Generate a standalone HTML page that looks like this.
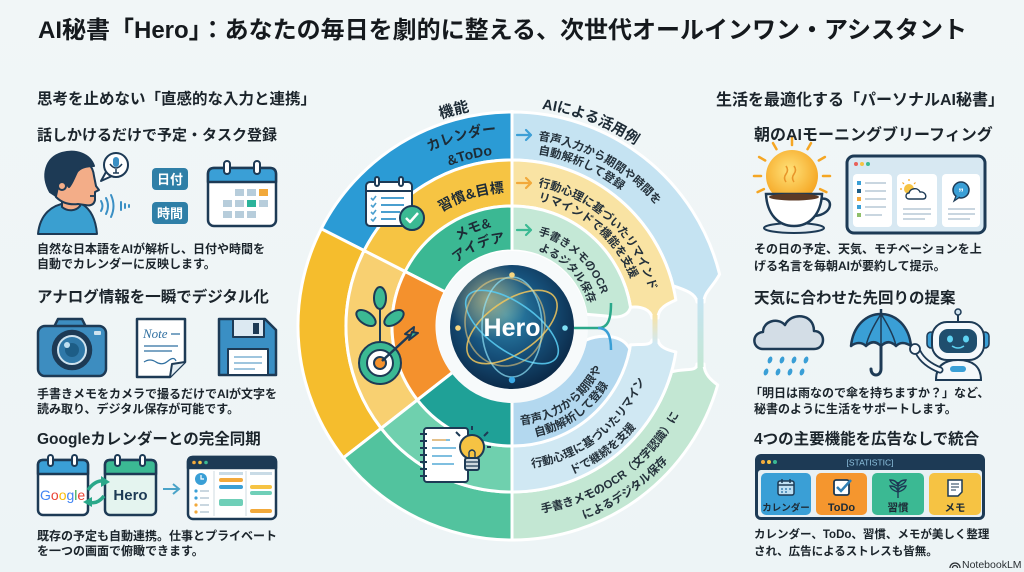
<!DOCTYPE html>
<html><head><meta charset="utf-8">
<style>
html,body{margin:0;padding:0;}
body{width:1024px;height:572px;overflow:hidden;position:relative;background:linear-gradient(180deg,#f1f6f7 0%,#edf4f6 100%);font-family:"Liberation Sans","Noto Sans CJK JP",sans-serif;}
svg{position:absolute;left:0;top:0;}
.t{position:absolute;white-space:nowrap;font-weight:bold;color:#1b242b;line-height:1;}
.h{font-size:15.5px;}
.b{font-size:12px;}
</style></head><body>
<svg width="1024" height="572" viewBox="0 0 1024 572" font-family="'Liberation Sans','Noto Sans CJK JP',sans-serif">
<defs>
<radialGradient id="heroG" cx="45%" cy="40%" r="62%">
<stop offset="0" stop-color="#2f8ab0"/><stop offset="0.55" stop-color="#16507a"/><stop offset="1" stop-color="#0b2846"/>
</radialGradient>
<radialGradient id="glowY" cx="50%" cy="50%" r="50%">
<stop offset="0" stop-color="#f7d57a" stop-opacity="0.55"/><stop offset="1" stop-color="#f7d57a" stop-opacity="0"/>
</radialGradient>
<radialGradient id="sunG" cx="45%" cy="40%" r="60%">
<stop offset="0" stop-color="#ffe27a"/><stop offset="1" stop-color="#f5a623"/>
</radialGradient>
<linearGradient id="stemA" x1="0" y1="0" x2="0" y2="1"><stop offset="0" stop-color="#c5e3f2"/><stop offset="1" stop-color="#c3e7d3"/></linearGradient>
<linearGradient id="stemB" x1="0" y1="0" x2="0" y2="1"><stop offset="0" stop-color="#f9e3a3"/><stop offset="1" stop-color="#d0e8f3"/></linearGradient>
<clipPath id="hc"><circle cx="512" cy="327" r="62"/></clipPath>
<path id="tA" d="M402.5,136.3 A219,219 0 0 1 666.9,171.1"/>
<path id="l1" d="M375.5,189.5 A193,193 0 0 1 562,139.6"/>
<path id="l2" d="M392.5,202.3 A172,172 0 0 1 559.4,160.7"/>
<path id="l3" d="M413.2,235.5 A134,134 0 0 1 541,195.2"/>
<path id="l4" d="M432.4,263.8 A101,101 0 0 1 526.1,226"/>
<path id="l5" d="M444.9,275.4 A84,84 0 0 1 522.2,242.6"/>
<path id="p1" d="M538,139.8 A188,188 0 0 1 699.3,342.4"/>
<path id="p2" d="M538,154 A174,174 0 0 1 685.3,341.2"/>
<path id="p3" d="M538,186.4 A142,142 0 0 1 653.5,338.4"/>
<path id="p4" d="M538,200.7 A128,128 0 0 1 639.5,337.2"/>
<path id="p5" d="M538,234.6 A95,95 0 0 1 606.6,334.3"/>
<path id="p6" d="M538,250.3 A80,80 0 0 1 591.7,333"/>
<path id="q1" d="M520.6,424.6 A99,99 0 0 0 609.5,343.2"/>
<path id="q2" d="M535.5,436.5 A113,113 0 0 0 623.3,345.6"/>
<path id="q3" d="M531.9,467.6 A143,143 0 0 0 652.8,350.8"/>
<path id="q4" d="M571.9,474.4 A160,160 0 0 0 669.6,353.8"/>
<path id="q5" d="M541.6,512.7 A189,189 0 0 0 698.1,358.8"/>
<path id="q6" d="M584.1,519 A206,206 0 0 0 714.9,361.8"/>
</defs>

<!-- LEFT HALF BANDS -->
<g stroke="#fff" stroke-width="3" stroke-linejoin="round">
<path d="M512,112 A214,214 0 0 0 321.3,228.8 L364.1,250.6 A166,166 0 0 1 512,160 Z" fill="#2b9bd5"/>
<path d="M512,160 A166,166 0 0 0 364.1,250.6 L405.1,271.5 A120,120 0 0 1 512,206 Z" fill="#f6c443"/>
<path d="M512,206 A120,120 0 0 0 405.1,271.5 L445.2,291.9 A75,75 0 0 1 512,251 Z" fill="#3bb893"/>
<path d="M321.3,228.8 A214,214 0 0 0 343.4,457.8 L381.2,428.3 A166,166 0 0 1 364.1,250.6 Z" fill="#f5bd2d"/>
<path d="M364.1,250.6 A166,166 0 0 0 381.2,428.3 L417.4,399.9 A120,120 0 0 1 405.1,271.5 Z" fill="#f8d071"/>
<path d="M405.1,271.5 A120,120 0 0 0 417.4,399.9 L452.9,372.2 A75,75 0 0 1 445.2,291.9 Z" fill="#f4912d"/>
<path d="M343.4,457.8 A214,214 0 0 0 512,540 L512,492 A166,166 0 0 1 381.2,428.3 Z" fill="#52c39e"/>
<path d="M381.2,428.3 A166,166 0 0 0 512,492 L512,446 A120,120 0 0 1 417.4,399.9 Z" fill="#6fd0ae"/>
<path d="M417.4,399.9 A120,120 0 0 0 512,446 L512,401 A75,75 0 0 1 452.9,372.2 Z" fill="#1fa197"/>
</g>

<!-- RIGHT HALF BANDS -->
<g stroke="#fff" stroke-width="3" stroke-linejoin="round">
<path d="M512,112 A214,214 0 0 1 719.6,274.2 C713,287 704,292 704,302 L697,302 C696,294 686,290 673.1,285.8 A166,166 0 0 0 512,160 Z" fill="#c5e3f2"/>
<path d="M697,364 L704,364 C704,374 711,380 717.7,385 A214,214 0 0 1 512,540 L512,492 A166,166 0 0 0 671.6,371.8 C686,368 697,372 697,364 Z" fill="#c3e7d3"/>
<path d="M512,160 A166,166 0 0 1 675.9,300 C667,304 658,308 658,318 L652,318 C651,310 642,306 630.5,307.2 A120,120 0 0 0 512,206 Z" fill="#f9e3a3"/>
<path d="M652,340 L658,340 C659,347 667,350 675.9,352 A166,166 0 0 1 512,492 L512,446 A120,120 0 0 0 630.5,344.8 C641,344 651,346 652,340 Z" fill="#d0e8f3"/>
<path d="M512,206 A120,120 0 0 1 630.5,307.2 C628,318 614,318 606,316 L586.1,314.3 A75,75 0 0 0 512,251 Z" fill="#c4e8d6"/>
<path d="M585.6,340.3 C600,334 622,334 629.8,348.9 A120,120 0 0 1 512,446 L512,401 A75,75 0 0 0 585.6,340.3 Z" fill="#b3d8ef"/>
</g>
<rect x="697.5" y="299" width="6" height="68" fill="url(#stemA)"/>
<rect x="652.5" y="315" width="5" height="28" fill="url(#stemB)"/>
<line x1="512" y1="110" x2="512" y2="541" stroke="#fff" stroke-width="3"/>

<!-- arrows on top bands -->
<g fill="none" stroke-width="2.2" stroke-linecap="round" stroke-linejoin="round">
<path d="M517,135 H531 M526,130 L531,135 L526,140" stroke="#3d9fd6"/>
<path d="M517,183 H531 M526,178 L531,183 L526,188" stroke="#f2a93b"/>
<path d="M517,230 H531 M526,225 L531,230 L526,235" stroke="#3bb993"/>
</g>

<!-- HERO -->
<circle cx="512" cy="327" r="76" fill="#f7fafb"/>
<circle cx="512" cy="327" r="62" fill="url(#heroG)"/>
<g clip-path="url(#hc)">
<circle cx="488" cy="300" r="40" fill="url(#glowY)"/>
<g fill="none" stroke-width="1.6">
<ellipse cx="512" cy="327" rx="52" ry="26" transform="rotate(-35 512 327)" stroke="#f2c75c" opacity=".85"/>
<ellipse cx="512" cy="327" rx="54" ry="24" transform="rotate(35 512 327)" stroke="#58c9ee" opacity=".9"/>
<ellipse cx="512" cy="327" rx="50" ry="30" transform="rotate(90 512 327)" stroke="#8fe1f7" opacity=".7"/>
<ellipse cx="505" cy="322" rx="40" ry="44" stroke="#f7d27a" opacity=".55"/>
</g>
</g>
<circle cx="512" cy="275" r="2.8" fill="#f6d680"/>
<circle cx="458" cy="328" r="2.8" fill="#f6d680"/>
<circle cx="565" cy="328" r="2.8" fill="#7fe0f5"/>
<circle cx="512" cy="380" r="3.2" fill="#3aa9e6"/>
<text x="512" y="336" text-anchor="middle" font-size="25" font-weight="bold" fill="#fff">Hero</text>
<path d="M574,328 H598 C608,328 611,320 611,303" fill="none" stroke="#2aa88a" stroke-width="2.5"/>
<path d="M598,328 C608,328 611,336 611,350" fill="none" stroke="#3a9fd6" stroke-width="2.5"/>

<!-- arc labels -->
<g font-weight="bold" fill="#1d2b36">
<text font-size="15"><textPath href="#tA" startOffset="57" text-anchor="middle">機能</textPath></text>
<text font-size="14.5"><textPath href="#tA" startOffset="195" text-anchor="middle">AIによる活用例</textPath></text>
<text font-size="14"><textPath href="#l1" startOffset="50%" text-anchor="middle">カレンダー</textPath></text>
<text font-size="14"><textPath href="#l2" startOffset="50%" text-anchor="middle">&amp;ToDo</textPath></text>
<text font-size="14"><textPath href="#l3" startOffset="50%" text-anchor="middle">習慣&amp;目標</textPath></text>
<text font-size="13.5"><textPath href="#l4" startOffset="50%" text-anchor="middle">メモ&amp;</textPath></text>
<text font-size="13.5"><textPath href="#l5" startOffset="50%" text-anchor="middle">アイデア</textPath></text>
</g>
<g font-weight="bold" fill="#24313b" font-size="11.5">
<text><textPath href="#p1">音声入力から期間や時間を</textPath></text>
<text><textPath href="#p2">自動解析して登録</textPath></text>
<text><textPath href="#p3">行動心理に基づいたリマインド</textPath></text>
<text><textPath href="#p4">リマインドで機能を支援</textPath></text>
<text font-size="11"><textPath href="#p5">手書きメモのOCR</textPath></text>
<text font-size="11"><textPath href="#p6">よるジタル保存</textPath></text>
<text><textPath href="#q1">音声入力から期限や</textPath></text>
<text><textPath href="#q2">自動解析して登録</textPath></text>
<text><textPath href="#q3">行動心理に基づいたリマイン</textPath></text>
<text><textPath href="#q4">ドで継続を支援</textPath></text>
<text><textPath href="#q5">手書きメモのOCR（文字認識）に</textPath></text>
<text><textPath href="#q6">によるデジタル保存</textPath></text>
</g>

<!-- diagram icons -->
<g stroke="#1d3a55" stroke-width="2" stroke-linejoin="round">
<rect x="366" y="182" width="46" height="44" rx="4" fill="#fff"/>
<line x1="366" y1="191" x2="412" y2="191"/>
<rect x="375" y="177" width="4" height="9" rx="2" fill="#fff"/>
<rect x="399" y="177" width="4" height="9" rx="2" fill="#fff"/>
<g stroke="#4a9fcf" stroke-width="2" fill="none"><path d="M381,198 H404 M381,205 H404 M381,212 H400 M381,219 H396"/></g>
<g stroke="#4a9fcf" stroke-width="1.6" fill="none"><path d="M371,198 l2,2 l3,-4 M371,205 l2,2 l3,-4 M371,212 l2,2 l3,-4 M371,219 l2,2 l3,-4"/></g>
<circle cx="412" cy="218" r="12" fill="#3bb993"/>
<path d="M406,218 L410,222 L418,213" fill="none" stroke="#fff" stroke-width="2.5"/>
</g>
<g stroke="#1d3a55" stroke-width="2" stroke-linejoin="round">
<line x1="380" y1="343" x2="380" y2="302"/>
<ellipse cx="380" cy="298" rx="6" ry="11" fill="#3bb993"/>
<ellipse cx="366" cy="318" rx="6" ry="11" transform="rotate(-55 366 318)" fill="#3bb993"/>
<ellipse cx="394" cy="318" rx="6" ry="11" transform="rotate(55 394 318)" fill="#3bb993"/>
<circle cx="380" cy="363" r="21" fill="#3bb993"/>
<circle cx="380" cy="363" r="13" fill="#fff"/>
<circle cx="380" cy="363" r="6" fill="#f4912d"/>
<line x1="382" y1="361" x2="409" y2="336" stroke-width="2.5"/>
<path d="M405,334 L414,327 L413,336 Z" fill="#f4912d"/>
<path d="M409,340 L418,333 L412,332 Z" fill="#3bb993"/>
</g>
<g stroke="#1d3a55" stroke-width="2" stroke-linejoin="round">
<rect x="424" y="428" width="44" height="54" rx="3" fill="#fff"/>
<path d="M420,434 h7 M420,441 h7 M420,448 h7 M420,455 h7 M420,462 h7 M420,469 h7 M420,476 h7" stroke-width="2"/>
<path d="M432,440 H450 M432,448 H456 M432,456 H452 M432,464 H454" stroke="#7fbfe0" stroke-width="2"/>
<path d="M432,440 H446" stroke="#e3c08a" stroke-width="2"/>
<circle cx="472" cy="447" r="12" fill="#f6c343"/>
<rect x="465" y="458" width="14" height="12" rx="2" fill="#cfd8df"/>
<path d="M466,462 H478 M466,466 H478" stroke-width="1.2"/>
<path d="M469,452 V458 M475,452 V458 M469,452 q3,-4 6,0" fill="none" stroke-width="1.4"/>
<path d="M472,430 V426 M484,436 L488,432 M460,436 L456,432 M487,447 H491" fill="none"/>
</g>

<!-- LEFT COLUMN ICONS -->
<g stroke="#1d3a55" stroke-width="2" stroke-linejoin="round">
<path d="M38,234 C40,214 52,205 66,203 L82,204 C92,210 96,222 97,234 Z" fill="#3a9fd0"/>
<path d="M62,194 L62,207 C68,212 76,211 80,206 L80,196 Z" fill="#f3ad88"/>
<path d="M52,186 C50,168 60,158 74,158 C86,158 93,166 94,176 L96,186 L99,190 L95,192 L95,200 C94,205 90,206 85,205 L78,204 C70,205 62,203 56,197 Z" fill="#f3ad88"/>
<path d="M50,192 C41,176 45,158 62,153 C76,149 90,154 94,166 C86,166 80,168 77,172 C74,178 72,184 69,187 C65,182 60,182 58,187 L56,196 Z" fill="#1d3a55"/>
<circle cx="62" cy="186" r="4" fill="#f3ad88"/>
<path d="M90,196 L96,196" stroke-width="1.8"/>
</g>
<g fill="none" stroke="#3a8fc4" stroke-width="2" stroke-linecap="round">
<path d="M101,201 Q104,206 101,211"/><path d="M106,198 Q110,206 106,214"/><path d="M111,195 Q116,206 111,217"/>
<line x1="121" y1="202" x2="121" y2="210"/><line x1="125" y1="204" x2="125" y2="208"/><line x1="129" y1="205" x2="129" y2="207"/>
</g>
<path d="M106,172 L101,181 L112,176" fill="#fff" stroke="#1d3a55" stroke-width="2" stroke-linejoin="round"/>
<circle cx="116" cy="165" r="12" fill="#fff" stroke="#1d3a55" stroke-width="2"/>
<rect x="113" y="157" width="6" height="10" rx="3" fill="#3a8fc4"/>
<path d="M110,164 Q116,172 122,164 M116,169 V173 M113,173 H119" stroke="#1d3a55" fill="none" stroke-width="1.5"/>
<rect x="152" y="168" width="36" height="22" rx="4" fill="#2f7fa7"/>
<rect x="152" y="202" width="36" height="22" rx="4" fill="#2f7fa7"/>
<g fill="#fff" font-size="13" font-weight="bold" text-anchor="middle"><text x="170" y="184">日付</text><text x="170" y="218">時間</text></g>
<g stroke="#1d3a55" stroke-width="2.5" stroke-linejoin="round">
<rect x="208" y="168" width="68" height="58" rx="6" fill="#fff"/>
<path d="M208,182 V174 Q208,168 214,168 H270 Q276,168 276,174 V182 Z" fill="#3a9fd6"/>
<rect x="224" y="161" width="6" height="13" rx="3" fill="#fff" stroke-width="2"/>
<rect x="254" y="161" width="6" height="13" rx="3" fill="#fff" stroke-width="2"/>
</g>
<g fill="#b7cddb">
<rect x="235" y="189" width="9" height="7"/><rect x="247" y="189" width="9" height="7"/><rect x="259" y="189" width="9" height="7" fill="#f2a93b"/>
<rect x="223" y="200" width="9" height="7"/><rect x="235" y="200" width="9" height="7"/><rect x="247" y="200" width="9" height="7" fill="#2bb39a"/><rect x="259" y="200" width="9" height="7"/>
<rect x="223" y="211" width="9" height="7"/><rect x="235" y="211" width="9" height="7"/><rect x="247" y="211" width="9" height="7"/>
</g>

<g stroke="#1d3a55" stroke-width="2.5" stroke-linejoin="round">
<path d="M54,327 L58,319 H82 L86,327 Z" fill="#3d8dc0"/>
<rect x="38" y="326" width="68" height="50" rx="7" fill="#3d8dc0"/>
<circle cx="72" cy="350" r="19" fill="#1d3a55"/>
<circle cx="72" cy="350" r="14" fill="#2f78a8" stroke="#cfe3ef" stroke-width="2"/>
<circle cx="72" cy="350" r="7" fill="#1d5d86" stroke="none"/>
<circle cx="67" cy="345" r="3" fill="#bfe0f2" stroke="none"/>
<rect x="94" y="331" width="7" height="4" rx="1" fill="#cfe3ef" stroke="none"/>
<path d="M137,319 H185 V362 L170,377 H137 Z" fill="#fff"/>
<path d="M185,362 L172,364 L170,377" fill="#e3edf3" stroke-width="2"/>
<path d="M219,319 H265 L276,330 V375 H219 Z" fill="#3a8fc4"/>
<rect x="233" y="319" width="31" height="18" fill="#dce9f2" stroke-width="2"/>
<rect x="253" y="323" width="6" height="11" fill="#1d3a55" stroke="none"/>
<rect x="228" y="349" width="40" height="26" fill="#fff" stroke-width="2"/>
</g>
<text x="143" y="338" font-family="'Liberation Serif',serif" font-style="italic" font-size="13" fill="#2f6fa0">Note</text>
<path d="M171,334 H180 M144,346 H178 M144,351 H172 M144,362 Q150,358 156,362 T168,361 T176,361" stroke="#2f6fa0" stroke-width="1.2" fill="none"/>
<path d="M234,357 H262 M234,363 H262 M234,369 H255" stroke="#7fb2d3" stroke-width="1.5"/>

<g stroke="#1d3a55" stroke-width="2.5" stroke-linejoin="round">
<rect x="38" y="460" width="50" height="55" rx="5" fill="#fff"/>
<path d="M38,474 V465 Q38,460 43,460 H83 Q88,460 88,465 V474 Z" fill="#3a9fd6"/>
<rect x="48" y="455" width="5" height="11" rx="2.5" fill="#fff" stroke-width="2"/>
<rect x="72" y="455" width="5" height="11" rx="2.5" fill="#fff" stroke-width="2"/>
<rect x="105" y="460" width="51" height="55" rx="5" fill="#e4f4ef"/>
<path d="M105,474 V465 Q105,460 110,460 H151 Q156,460 156,465 V474 Z" fill="#3bb993"/>
<rect x="115" y="455" width="5" height="11" rx="2.5" fill="#fff" stroke-width="2"/>
<rect x="140" y="455" width="5" height="11" rx="2.5" fill="#fff" stroke-width="2"/>
<rect x="188" y="457" width="88" height="62" rx="5" fill="#fff"/>
<path d="M188,468 V462 Q188,457 193,457 H271 Q276,457 276,462 V468 Z" fill="#1d3a55"/>
</g>
<text x="40" y="500" font-size="14"><tspan fill="#4285f4">G</tspan><tspan fill="#ea4335">o</tspan><tspan fill="#fbbc05">o</tspan><tspan fill="#4285f4">g</tspan><tspan fill="#34a853">l</tspan><tspan fill="#ea4335">e</tspan></text>
<text x="130.5" y="500" text-anchor="middle" font-size="15" font-weight="bold" fill="#1d3a55">Hero</text>
<g fill="none" stroke="#2aa88a" stroke-width="3.5">
<path d="M88,490 Q95,480 104,481"/><path d="M104,496 Q97,505 89,502"/>
</g>
<path d="M101,476 L110,482 L101,487 Z" fill="#2aa88a"/>
<path d="M92,497 L83,502 L92,507 Z" fill="#2aa88a"/>
<path d="M163,489 H178 M173,484 L179,489 L173,494" stroke="#4aa3c8" stroke-width="2" fill="none"/>
<circle cx="194" cy="462.5" r="1.8" fill="#f2a93b"/><circle cx="200" cy="462.5" r="1.8" fill="#f6c343"/><circle cx="206" cy="462.5" r="1.8" fill="#3bb993"/>
<path d="M214,471 V516 M246,471 V516" stroke="#dfe7ec" stroke-width="1.5"/>
<circle cx="201" cy="479" r="6" fill="#3a9fd6"/>
<path d="M201,475 V479 H204" stroke="#fff" stroke-width="1.2" fill="none"/>
<g fill="#3a9fd6"><circle cx="196" cy="491" r="1.6"/><circle cx="196" cy="498" r="1.6"/><circle cx="196" cy="505" r="1.6" fill="#f2a93b"/><circle cx="196" cy="512" r="1.6" fill="#f2a93b"/></g>
<path d="M200,491 H209 M200,498 H209 M200,505 H209 M200,512 H209" stroke="#b8cad6" stroke-width="1.5"/>
<rect x="219" y="472" width="24" height="3" fill="#c9dbe6"/><rect x="219" y="478" width="24" height="4" rx="2" fill="#f2a93b"/><rect x="219" y="485" width="24" height="4" rx="2" fill="#3a9fd6"/><rect x="219" y="499" width="24" height="7" rx="2" fill="#6fcfb8"/>
<rect x="250" y="472" width="22" height="3" fill="#c9dbe6"/><rect x="250" y="485" width="22" height="4" rx="2" fill="#f6c343"/><rect x="250" y="491" width="22" height="4" rx="2" fill="#6fcfb8"/><rect x="250" y="509" width="22" height="4" rx="2" fill="#f2a93b"/>

<!-- RIGHT COLUMN ICONS -->
<g stroke="#f5a623" stroke-width="2.5" stroke-linecap="round">
<path d="M761,176 L754,176 M765.2,160.5 L759.1,157 M776.5,149.2 L773,143.1 M792,145 L792,138 M807.5,149.2 L811,143.1 M818.8,160.5 L824.9,157 M823,176 L830,176 M820.1,189.1 L826.4,192.1 M763.9,189.1 L757.6,192.1"/>
</g>
<circle cx="792" cy="176" r="26" fill="url(#sunG)"/>
<path d="M786,182 q-3,-4 0,-8 q3,-4 0,-8 M794,182 q-3,-4 0,-8 q3,-4 0,-8" stroke="#e9962a" stroke-width="1.6" fill="none"/>
<ellipse cx="794" cy="228" rx="30" ry="5" fill="#e6eef3" stroke="#1d3a55" stroke-width="2"/>
<path d="M820,199 C834,196 834,214 815,216" fill="none" stroke="#1d3a55" stroke-width="2.5"/>
<path d="M766,194 H822 C821,214 810,226 794,226 C778,226 767,214 766,194 Z" fill="#fff" stroke="#1d3a55" stroke-width="2.5"/>
<ellipse cx="794" cy="197" rx="25" ry="3.5" fill="#5b3a26"/>

<rect x="847" y="156" width="138" height="77" rx="7" fill="#d7e8f2" stroke="#1d3a55" stroke-width="3"/>
<circle cx="856" cy="164" r="2" fill="#e8605a"/><circle cx="862" cy="164" r="2" fill="#f6c343"/><circle cx="868" cy="164" r="2" fill="#3bb993"/>
<rect x="853" y="174" width="39" height="53" rx="4" fill="#fff"/>
<rect x="897" y="174" width="40" height="53" rx="4" fill="#fff"/>
<rect x="942" y="174" width="38" height="53" rx="4" fill="#fff"/>
<rect x="857" y="181" width="4" height="4" fill="#3a9fd6"/><rect x="857" y="189" width="4" height="4" fill="#1d5d86"/><rect x="857" y="197" width="4" height="4" fill="#f2a93b"/><rect x="857" y="205" width="4" height="4" fill="#3a9fd6"/><rect x="857" y="213" width="4" height="4" fill="#8fbf6a"/>
<path d="M865,183 H886 M865,191 H886 M865,199 H886 M865,207 H886 M865,215 H882" stroke="#b7c9d5" stroke-width="1.5"/>
<circle cx="909" cy="189" r="5" fill="#f6c343"/>
<path d="M909,181 v-2 M902,189 h-2 M904,184 l-1.5,-1.5 M914,184 l1.5,-1.5" stroke="#f5a623" stroke-width="1.2"/>
<path d="M909,199 C905,199 905,193 909,193 C910,188 918,187 920,192 C926,191 928,199 923,199 Z" fill="#fff" stroke="#1d3a55" stroke-width="1.4"/>
<path d="M903,209 H931 M903,214 H931 M903,219 H925" stroke="#b7c9d5" stroke-width="1.5"/>
<circle cx="961" cy="190" r="8" fill="#3a9fd6" stroke="#1d3a55" stroke-width="1.5"/>
<path d="M956,196 L954,201 L960,197" fill="#3a9fd6" stroke="#1d3a55" stroke-width="1.2"/>
<text x="961" y="196" text-anchor="middle" font-size="11" font-weight="bold" fill="#fff">”</text>
<path d="M948,209 H975 M948,214 H975 M948,219 H970" stroke="#b7c9d5" stroke-width="1.5"/>

<path d="M763,349 C752,349 751,333 763,332 C763,321 778,317 785,325 C791,312 814,313 814,331 C826,331 826,349 814,349 Z" fill="#d3dde6" stroke="#1d3a55" stroke-width="2.5" stroke-linejoin="round"/>
<g fill="#3a9fd6">
<ellipse cx="770" cy="360" rx="2.2" ry="3.6" transform="rotate(20 770 360)"/><ellipse cx="782" cy="360" rx="2.2" ry="3.6" transform="rotate(20 782 360)"/><ellipse cx="794" cy="360" rx="2.2" ry="3.6" transform="rotate(20 794 360)"/><ellipse cx="806" cy="360" rx="2.2" ry="3.6" transform="rotate(20 806 360)"/>
<ellipse cx="766" cy="372" rx="2.2" ry="3.6" transform="rotate(20 766 372)"/><ellipse cx="778" cy="372" rx="2.2" ry="3.6" transform="rotate(20 778 372)"/><ellipse cx="790" cy="372" rx="2.2" ry="3.6" transform="rotate(20 790 372)"/><ellipse cx="802" cy="372" rx="2.2" ry="3.6" transform="rotate(20 802 372)"/>
</g>
<line x1="881" y1="309" x2="881" y2="314" stroke="#1d3a55" stroke-width="2.5"/>
<path d="M851,346 C853,326 866,314 881,314 C896,314 909,326 911,346 C905,342 900,342 896,346 C891,341 886,341 881,346 C876,341 871,341 866,346 C862,342 856,342 851,346 Z" fill="#3a9fd6" stroke="#1d3a55" stroke-width="2.5" stroke-linejoin="round"/>
<path d="M881,314 C874,325 868,336 866,346 M881,314 V346 M881,314 C888,325 894,336 896,346" stroke="#1d3a55" stroke-width="1.5" fill="none"/>
<path d="M881,346 V369 C881,377 871,377 871,369" stroke="#1d3a55" stroke-width="3" fill="none" stroke-linecap="round"/>

<line x1="958" y1="313" x2="958" y2="322" stroke="#1d3a55" stroke-width="2"/>
<circle cx="958" cy="312" r="3" fill="#cfe3ef" stroke="#1d3a55" stroke-width="1.5"/>
<path d="M936,380 C936,366 944,360 958,360 C972,360 981,366 981,380 Z" fill="#f4f8fb" stroke="#1d3a55" stroke-width="2"/>
<rect x="950" y="366" width="16" height="6" rx="3" fill="#3a9fd6"/>
<rect x="927" y="332" width="8" height="16" rx="4" fill="#3a9fd6" stroke="#1d3a55" stroke-width="1.5"/>
<rect x="981" y="332" width="8" height="16" rx="4" fill="#3a9fd6" stroke="#1d3a55" stroke-width="1.5"/>
<rect x="932" y="322" width="52" height="38" rx="15" fill="#f4f8fb" stroke="#1d3a55" stroke-width="2"/>
<rect x="939" y="329" width="38" height="24" rx="9" fill="#1f4e6e"/>
<ellipse cx="950" cy="339" rx="3" ry="3.5" fill="#5fd3f3"/><ellipse cx="966" cy="339" rx="3" ry="3.5" fill="#5fd3f3"/>
<path d="M952,346 Q958,350 964,346" stroke="#5fd3f3" stroke-width="1.5" fill="none"/>
<path d="M940,370 C930,366 922,360 918,352" stroke="#1d3a55" stroke-width="7" stroke-linecap="round" fill="none"/>
<path d="M940,370 C930,366 922,360 918,352" stroke="#f4f8fb" stroke-width="3.5" stroke-linecap="round" fill="none"/>
<circle cx="915" cy="349" r="5" fill="#f4f8fb" stroke="#1d3a55" stroke-width="1.8"/>

<rect x="755" y="454" width="230" height="66" rx="6" fill="#1d3a55"/>
<rect x="758" y="470" width="224" height="47" rx="3" fill="#e8f0f4"/>
<circle cx="763" cy="462" r="2" fill="#f2a93b"/><circle cx="769" cy="462" r="2" fill="#f6c343"/><circle cx="775" cy="462" r="2" fill="#3bb993"/>
<text x="870" y="465.5" text-anchor="middle" font-size="8.5" fill="#8fc3e0">[STATISTIC]</text>
<rect x="761" y="473" width="50" height="42" rx="5" fill="#3a9fd6"/>
<rect x="816" y="473" width="51" height="42" rx="5" fill="#f5962e"/>
<rect x="872" y="473" width="52" height="42" rx="5" fill="#3bb993"/>
<rect x="929" y="473" width="52" height="42" rx="5" fill="#f6c343"/>
<rect x="778" y="481" width="16" height="14" rx="2" fill="#bfe0f3" stroke="#1d3a55" stroke-width="1.5"/>
<path d="M778,485 H794 M782,479 V483 M790,479 V483" stroke="#1d3a55" stroke-width="1.5"/>
<path d="M781,489 h2 M785,489 h2 M789,489 h2 M781,492 h2 M785,492 h2" stroke="#3a7fb0" stroke-width="1.5"/>
<rect x="834" y="480" width="15" height="15" rx="2" fill="#fff" stroke="#1d3a55" stroke-width="1.8"/>
<path d="M837,487 L841,491 L851,480" stroke="#2f7fb5" stroke-width="2.5" fill="none"/>
<path d="M898,482 V498 M898,486 q-7,-2 -8,-6 q7,0 8,6 M898,486 q7,-2 8,-6 q-7,0 -8,6 M898,492 q-7,-2 -8,-6 q7,0 8,6 M898,492 q7,-2 8,-6 q-7,0 -8,6" stroke="#1d3a55" stroke-width="1.4" fill="none"/>
<path d="M948,480 H962 V492 L958,496 H948 Z" fill="#fff" stroke="#1d3a55" stroke-width="1.5"/>
<path d="M951,484 H959 M951,487 H959 M951,490 H956" stroke="#1d3a55" stroke-width="1"/>
<g font-weight="bold" fill="#1d2b36" text-anchor="middle">
<text x="786" y="511" font-size="9.5">カレンダー</text>
<text x="841.5" y="511" font-size="11">ToDo</text>
<text x="898" y="511" font-size="10.5">習慣</text>
<text x="955" y="511" font-size="10.5">メモ</text>
</g>
<path d="M950,568 a5,5 0 0 1 10,0 M952.5,568 a2.5,2.5 0 0 1 5,0" stroke="#2a2f33" stroke-width="1.3" fill="none"/>
<text x="962" y="568" font-size="10.5" fill="#2a2f33">NotebookLM</text>
</svg>

<div class="t" style="left:38px;top:19px;font-size:24px;color:#15191d;">AI秘書「Hero」：あなたの毎日を劇的に整える、次世代オールインワン・アシスタント</div>

<div class="t h" style="left:37px;top:92px;">思考を止めない「直感的な入力と連携」</div>
<div class="t" style="left:37px;top:127.5px;font-size:15px;">話しかけるだけで予定・タスク登録</div>
<div class="t b" style="left:37px;top:242.5px;">自然な日本語をAIが解析し、日付や時間を</div>
<div class="t b" style="left:37px;top:257.5px;">自動でカレンダーに反映します。</div>
<div class="t h" style="left:37px;top:290px;">アナログ情報を一瞬でデジタル化</div>
<div class="t b" style="left:37px;top:387.5px;">手書きメモをカメラで撮るだけでAIが文字を</div>
<div class="t b" style="left:37px;top:402.5px;">読み取り、デジタル保存が可能です。</div>
<div class="t h" style="left:37px;top:432px;">Googleカレンダーとの完全同期</div>
<div class="t b" style="left:37px;top:529.5px;">既存の予定も自動連携。仕事とプライベート</div>
<div class="t b" style="left:37px;top:544.5px;">を一つの画面で俯瞰できます。</div>

<div class="t" style="left:716px;top:92.5px;font-size:16px;">生活を最適化する「パーソナルAI秘書」</div>
<div class="t" style="left:754px;top:127.5px;font-size:16px;">朝のAIモーニングブリーフィング</div>
<div class="t b" style="left:754px;top:242.5px;">その日の予定、天気、モチベーションを上</div>
<div class="t b" style="left:754px;top:259.5px;">げる名言を毎朝AIが要約して提示。</div>
<div class="t h" style="left:754px;top:291px;">天気に合わせた先回りの提案</div>
<div class="t b" style="left:750px;top:386.5px;">「明日は雨なので傘を持ちますか？」など、</div>
<div class="t b" style="left:754px;top:402.5px;">秘書のように生活をサポートします。</div>
<div class="t h" style="left:754px;top:432px;">4つの主要機能を広告なしで統合</div>
<div class="t" style="left:754px;top:529.5px;font-size:11.5px;">カレンダー、ToDo、習慣、メモが美しく整理</div>
<div class="t" style="left:754px;top:546.5px;font-size:11.5px;">され、広告によるストレスも皆無。</div>
</body></html>
